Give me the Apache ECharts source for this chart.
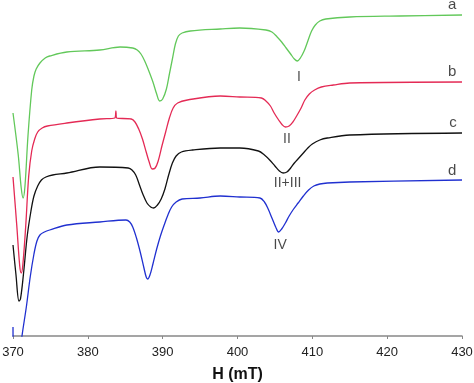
<!DOCTYPE html>
<html>
<head>
<meta charset="utf-8">
<script src="https://cdn.jsdelivr.net/npm/echarts@6/dist/echarts.min.js"></script>
<style>
html,body{margin:0;padding:0;background:#fff;}
#chart{width:474px;height:383px;}
</style>
</head>
<body>
<div id="chart"></div>
<script>
// X axis ticks (mT)
const xTicks = [370, 380, 390, 400, 410, 420, 430];

// Spectrum a (green) [H (mT), intensity a.u.]
const seriesA = [[370.0,223],[370.7,181],[371.1,148],[371.35,138],[371.6,150],[372.0,200],[372.5,246],[372.8,260],[373.1,267],[373.6,273],[374.3,278],[374.9,280],[377.2,284],[381.6,286],[384.3,289],[386.0,288],[386.6,286],[387.1,282],[387.6,275],[388.1,266],[388.7,254],[389.2,242],[389.6,235],[390.0,237],[390.5,247],[390.9,262],[391.3,277],[391.7,292],[392.1,300],[392.6,303],[393.7,305],[397.7,307],[400.3,308],[403.8,306],[404.6,304],[405.3,299],[405.9,294],[406.5,288],[407.1,282],[407.6,277],[408.0,275],[408.4,278],[408.9,285],[409.4,295],[409.9,305],[410.4,311],[411.0,315],[411.8,317],[415.0,319],[421.7,320],[430,321]];

// Spectrum b (red)
const seriesB = [[370.0,159],[370.5,111],[370.9,70],[371.1,63],[371.3,70],[371.7,110],[372.1,160],[372.5,185],[372.9,197],[373.3,204],[373.9,208],[374.6,210],[377.2,213],[381.6,217],[383.6,218],[383.75,225],[383.85,218],[385.8,217],[386.3,214],[386.8,207],[387.3,197],[387.8,184],[388.2,174],[388.6,167],[389.0,168],[389.4,175],[389.9,190],[390.4,204],[390.9,218],[391.4,228],[392.0,233],[393.3,236],[397.7,240],[400.3,239],[403.2,238],[403.8,235],[404.4,230],[404.9,223],[405.5,216],[406.0,211],[406.4,209],[406.9,210],[407.4,214],[407.9,220],[408.5,228],[409.0,236],[409.6,242],[410.3,246],[411.2,249],[412.8,251],[415.0,253],[430,254]];

// Spectrum c (black)
const seriesC = [[370.0,91],[370.4,61],[370.8,35],[371.0,37],[371.4,62],[371.9,100],[372.4,125],[372.8,140],[373.3,150],[373.8,156],[374.4,159],[375.3,161],[377.2,163],[381.6,169],[385.4,168],[385.9,166],[386.4,161],[386.9,151],[387.4,141],[387.9,133],[388.4,129],[388.8,128],[389.3,131],[389.8,137],[390.3,147],[390.8,161],[391.3,173],[391.8,180],[392.5,184],[394.0,186],[397.7,188],[400.3,188],[402.8,185],[403.6,181],[404.3,176],[405.0,170],[405.6,165],[406.1,163],[406.6,164],[407.1,168],[407.6,173],[408.2,178],[408.8,183],[409.4,188],[410.0,192],[411.0,196],[412.0,198],[415.0,201],[430,203]];

// Spectrum d (blue)
const seriesD = [[370.0,9],[370.08,-30],[370.3,-50],[370.7,-30],[371.2,0],[371.8,30],[372.3,59],[372.8,82],[373.2,95],[373.6,101],[374.2,104],[374.9,106],[377.2,111],[381.6,114],[385.1,116],[385.6,114],[386.0,109],[386.5,98],[387.0,84],[387.5,68],[387.8,59],[388.0,57],[388.3,61],[388.7,72],[389.2,87],[389.7,100],[390.2,111],[390.7,121],[391.2,129],[391.8,134],[392.6,137],[395.0,138],[397.7,140],[400.3,139],[403.0,138],[403.6,134],[404.1,127],[404.6,118],[405.1,109],[405.5,104],[405.9,107],[406.4,113],[406.9,120],[407.5,127],[408.1,133],[408.8,140],[409.5,146],[410.2,150],[411.0,152],[412.0,153],[415.0,154],[430,156]];

// Annotation labels [H, intensity, text]
const curveLetters = [[428.7,331,'a'],[428.7,264,'b'],[428.8,213,'c'],[428.7,165,'d']];
const peakLabels = [[408.2,259,'I'],[406.6,197,'II'],[406.7,153,'II+III'],[405.7,91,'IV']];

const colors = ['#62c85a', '#e42a55', '#111111', '#2030d0'];

const chart = echarts.init(document.getElementById('chart'));
const lineSeries = [seriesA, seriesB, seriesC, seriesD].map((d, i) => ({
  type: 'line',
  data: d,
  showSymbol: false,
  symbol: 'none',
  smooth: 0.35,
  clip: true,
  lineStyle: { color: colors[i], width: 1.3 },
  silent: true,
  animation: false
}));

function labelSeries(data, size) {
  return {
    type: 'scatter',
    data: data,
    symbolSize: 0,
    clip: false,
    silent: true,
    animation: false,
    label: {
      show: true,
      position: 'inside',
      formatter: p => p.value[2],
      color: '#1a1a1a',
      fontSize: size,
      fontFamily: 'Liberation Sans, Arial, sans-serif'
    }
  };
}

chart.setOption({
  animation: false,
  backgroundColor: '#fff',
  grid: { left: 13, right: 12, top: 0, bottom: 47, containLabel: false, outerBoundsMode: 'none' },
  xAxis: {
    type: 'value',
    min: 370, max: 430, interval: 10,
    name: 'H (mT)',
    nameLocation: 'middle',
    nameGap: 31,
    nameTextStyle: { fontSize: 16, fontWeight: 'bold', color: '#111', fontFamily: 'Liberation Sans, Arial, sans-serif' },
    axisLine: { show: true, lineStyle: { color: '#888', width: 1.5 } },
    axisTick: { show: true, length: 3, lineStyle: { color: '#888' } },
    axisLabel: { fontSize: 13, color: '#222', margin: 10, fontFamily: 'Liberation Sans, Arial, sans-serif',
      formatter: v => xTicks.includes(v) ? String(v) : '' },
    splitLine: { show: false }
  },
  yAxis: {
    type: 'value', min: 0, max: 336, show: false, splitLine: { show: false }
  },
  series: lineSeries.concat([labelSeries(curveLetters, 15), labelSeries(peakLabels, 14)])
});
</script>
</body>
</html>
